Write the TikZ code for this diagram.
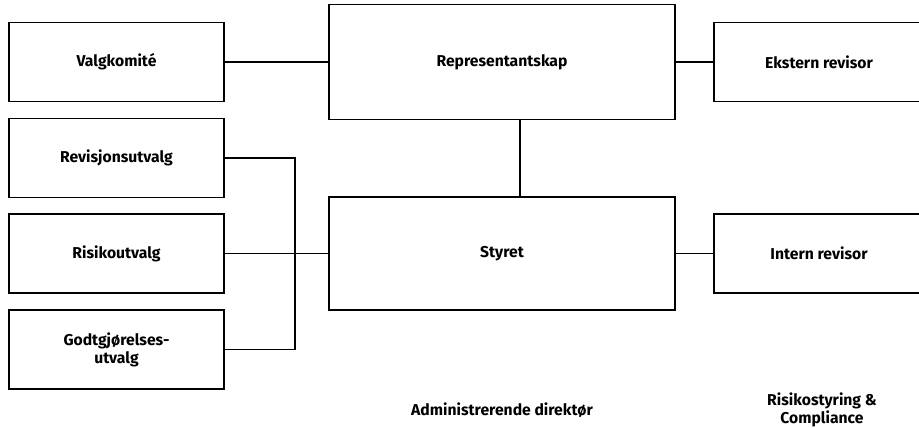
\documentclass[tikz,border=0pt]{standalone}
\usepackage{fontspec}
\setmainfont{Fira Sans}
\begin{document}
\begin{tikzpicture}[
    font=\bfseries\fontsize{13.4}{15.4}\selectfont,
    box/.style={draw, line width=1pt, minimum width=6.45cm, minimum height=2.37cm, align=center},
    hovedbox/.style={box, line width=1.6pt},
    tykk/.style={line width=1.6pt},
    tynn/.style={line width=0.9pt}]
    \useasboundingbox (0,0) rectangle (27.57,12.81);
    % toppen
    \node[hovedbox] (valg) at (3.495,10.95) {Valgkomit\'e};
    \node[hovedbox, minimum width=10.38cm, minimum height=3.45cm] (repr) at (15.06,10.95) {Representantskap};
    \node[hovedbox, minimum width=6.3cm] (ekstern) at (24.57,10.95) {Ekstern revisor};
    % utvalg og styret
    \node[box] (revisjon) at (3.495,8.07) {Revisjonsutvalg};
    \node[box] (risiko) at (3.495,5.205) {Risikoutvalg};
    \node[box] (godtgj) at (3.495,2.325) {Godtgj\o{}relses-\\utvalg};
    \node[box, minimum width=10.38cm, minimum height=3.39cm] (styret) at (15.06,5.205) {Styret};
    \node[box, minimum width=6.3cm] (intern) at (24.57,5.205) {Intern revisor};
    % nederst, uten ramme
    \node (adm) at (15.06,0.5) {Administrerende direkt\o{}r};
    \node[align=center] (risikostyring) at (24.66,0.51) {Risikostyring \&\\Compliance};
    % linjer
    \coordinate (samle) at (8.85,5.205);
    \draw[tykk] (valg) -- (repr);
    \draw[tykk] (repr) -- (ekstern);
    \draw[tynn] ([xshift=0.54cm]repr.south) -- ([xshift=0.54cm]styret.north);
    \draw[tynn] (revisjon.east) -| (samle) |- (godtgj.east);
    \draw[tynn] (risiko) -- (styret);
    \draw[tynn] (styret) -- (intern);
\end{tikzpicture}
\end{document}
